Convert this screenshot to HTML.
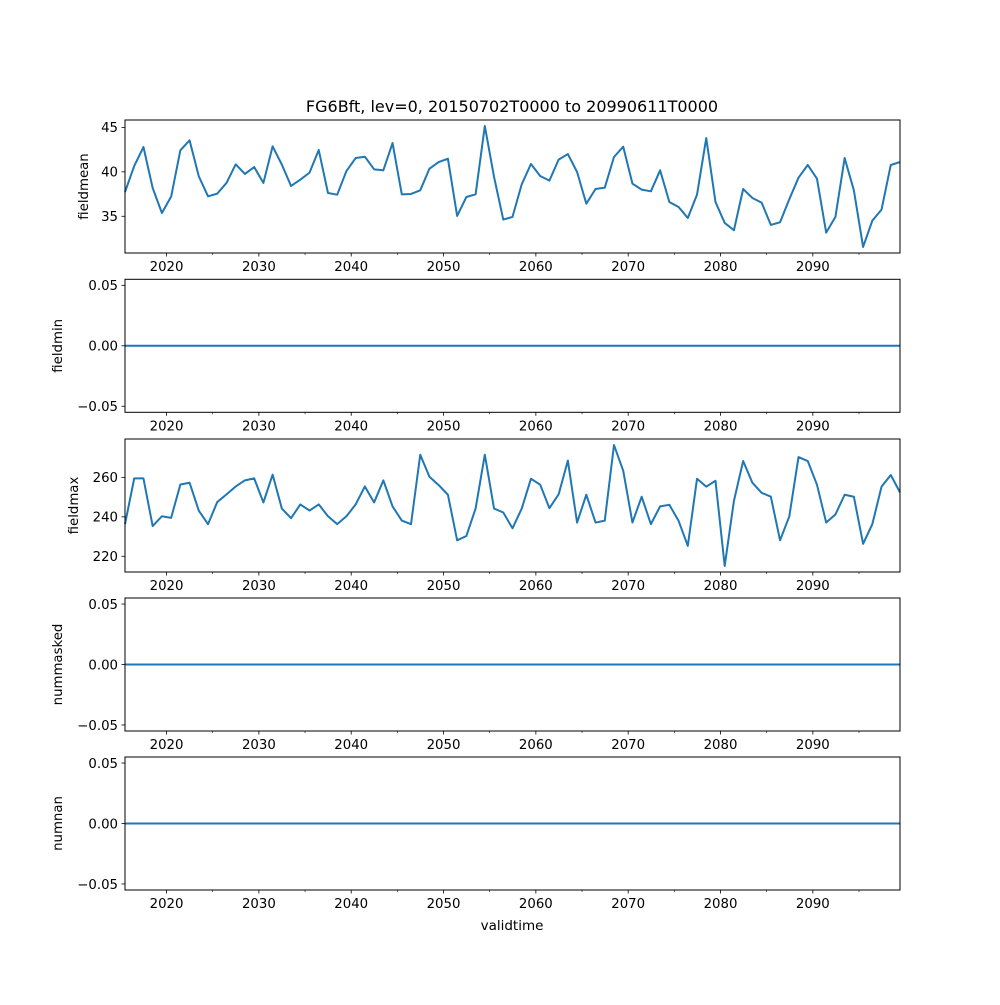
<!DOCTYPE html>
<html><head><meta charset="utf-8"><style>
html,body{margin:0;padding:0;background:#fff;}
svg text{font-family:"DejaVu Sans","Liberation Sans",sans-serif;fill:#000;}
</style></head><body>
<svg id="chart" width="1000" height="1000" viewBox="0 0 1000 1000" xmlns="http://www.w3.org/2000/svg">
<rect width="1000" height="1000" fill="#fff"/>
<text x="512" y="112" font-size="16" text-anchor="middle">FG6Bft, lev=0, 20150702T0000 to 20990611T0000</text>
<text x="512" y="930" font-size="13.5" text-anchor="middle">validtime</text>
</svg>
<script>
const startYear = 2015.5;
const endYear = 2099.44;
const xTicks = [2020, 2030, 2040, 2050, 2060, 2070, 2080, 2090];
const xMinorTicks = [2025, 2035, 2045, 2055, 2065, 2075, 2085, 2095];
const fieldmean = [37.73,40.66,42.79,38.18,35.37,37.21,42.42,43.54,39.49,37.25,37.55,38.75,40.84,39.76,40.54,38.75,42.87,40.81,38.41,39.12,39.91,42.45,37.62,37.43,40.09,41.55,41.70,40.28,40.17,43.24,37.47,37.51,37.92,40.36,41.10,41.48,35.04,37.17,37.47,45.15,39.42,34.63,34.93,
38.60,40.88,39.53,39.01,41.37,42.00,39.98,36.42,38.07,38.22,41.67,42.83,38.67,38.00,37.81,40.17,36.61,36.05,34.81,37.43,43.80,36.61,34.25,33.43,38.07,37.06,36.54,34.03,34.33,36.91,39.34,40.77,39.23,33.16,34.93,41.55,37.92,31.55,34.51,35.75,40.77,41.10];
const fieldmax = [236.3,259.5,259.5,235.3,240.3,239.5,256.4,257.3,243.1,236.3,247.5,251.4,255.4,258.5,259.5,247.3,261.4,244.2,239.3,246.3,243.2,246.3,240.3,236.3,240.3,246.3,255.4,247.3,258.5,245.3,238.1,236.3,271.5,260.3,256.1,251.2,228.1,230.3,244.2,271.5,244.2,242.2,234.2,
244.2,259.3,256.3,244.4,251.4,268.5,237.1,251.2,237.1,238.1,276.4,263.4,237.1,250.2,236.3,245.3,246.1,238.0,225.3,259.3,255.3,258.3,215.1,248.1,268.3,257.3,252.2,250.2,228.1,240.2,270.3,268.3,256.3,237.1,241.2,251.2,250.2,226.3,236.3,255.3,261.2,252.4];
const fieldmin = fieldmean.map(() => 0);
const nummasked = fieldmean.map(() => 0);
const numnan = fieldmean.map(() => 0);
const panels = [
  {name:'fieldmean', values:fieldmean, ticks:[35,40,45], labels:['35','40','45'], labelX:88},
  {name:'fieldmin', values:fieldmin, ticks:[-0.05,0,0.05], labels:['\u22120.05','0.00','0.05'], labelX:62},
  {name:'fieldmax', values:fieldmax, ticks:[220,240,260], labels:['220','240','260'], labelX:78},
  {name:'nummasked', values:nummasked, ticks:[-0.05,0,0.05], labels:['\u22120.05','0.00','0.05'], labelX:62},
  {name:'numnan', values:numnan, ticks:[-0.05,0,0.05], labels:['\u22120.05','0.00','0.05'], labelX:62}
];
const tops = [120, 279.3, 439, 598, 757];
const H = 133, L = 125, R = 900;
const svg = document.getElementById('chart');
const NS = 'http://www.w3.org/2000/svg';
function mk(tag, attrs, parent){const e=document.createElementNS(NS,tag);for(const k in attrs)e.setAttribute(k,attrs[k]);(parent||svg).appendChild(e);return e;}
const n = fieldmean.length;
function xYear(i){return startYear + i*(endYear-startYear)/(n-1);}
function xs(y){return L + (y-startYear)/(endYear-startYear)*(R-L);}
panels.forEach((p, pi) => {
  const top = tops[pi], bot = top + H;
  let mn = Math.min(...p.values), mx = Math.max(...p.values);
  if (mx === mn) { mn -= 0.055; mx += 0.055; } else { const m=(mx-mn)*0.05; mn-=m; mx+=m; }
  const ys = v => bot - (v-mn)/(mx-mn)*H;
  const g = mk('g', {});
  
  
  const pts = p.values.map((v,i)=>xs(xYear(i)).toFixed(2)+','+ys(v).toFixed(2)).join(' ');
  const line = mk('polyline', {points:pts, fill:'none', stroke:'#1f77b4', 'stroke-width':2, 'stroke-linejoin':'round'}, g);
  
  
  const frame = mk('rect', {x:L, y:top, width:R-L, height:H, fill:'none', stroke:'#000', 'stroke-width':1}, g);
  
  
  p.ticks.forEach((t, ti) => {
    const y = ys(t);
    mk('line', {x1:L-3.5, x2:L, y1:y, y2:y, stroke:'#000', 'stroke-width':0.8}, g);
    const tx = mk('text', {x:L-7, y:y+4.8, 'font-size':13.3, 'text-anchor':'end'}, g);
    tx.textContent = p.labels[ti];
    
    
  });
  xTicks.forEach(t => {
    const x = xs(t);
    mk('line', {x1:x, x2:x, y1:bot, y2:bot+3.5, stroke:'#000', 'stroke-width':0.8}, g);
    const tx = mk('text', {x:x, y:bot+18, 'font-size':13.3, 'text-anchor':'middle'}, g);
    tx.textContent = String(t);
    
    
  });
  xMinorTicks.forEach(t => {
    const x = xs(t);
    if (x <= R) mk('line', {x1:x, x2:x, y1:bot, y2:bot+2, stroke:'#000', 'stroke-width':0.6}, g);
  });
  const cy = top + H/2;
  const yl = mk('text', {x:p.labelX, y:cy, 'font-size':13.3, 'text-anchor':'middle', transform:'rotate(-90 '+p.labelX+' '+cy+')'}, g);
  yl.textContent = p.name;
  
  
});
</script>
</body></html>
